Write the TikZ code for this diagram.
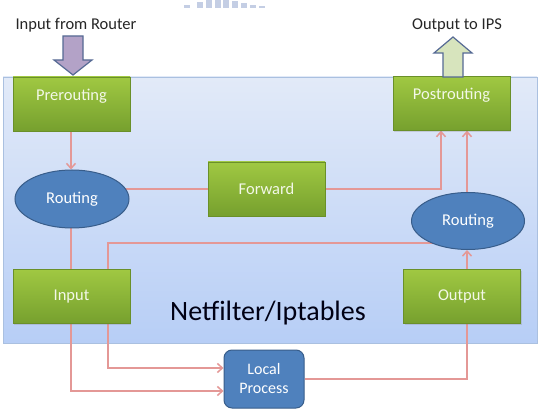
\documentclass[tikz,border=0pt]{standalone}
\usepackage{fontspec}
\setmainfont{Carlito}
\usetikzlibrary{arrows.meta,shadows,calc,shapes.geometric}
\pgfdeclarelayer{panel}\pgfdeclarelayer{edges}
\pgfsetlayers{panel,edges,main}
\definecolor{edgecol}{RGB}{228,152,150}
\definecolor{gtop}{RGB}{160,200,66}
\definecolor{gbot}{RGB}{118,160,46}
\definecolor{gtext}{RGB}{243,248,232}
\definecolor{bfill}{RGB}{79,129,189}
\definecolor{bdraw}{RGB}{56,93,138}
\definecolor{ptop}{RGB}{226,234,248}
\definecolor{pbot}{RGB}{183,206,246}
\definecolor{pdraw}{RGB}{170,192,224}
\definecolor{purfill}{RGB}{179,162,199}
\definecolor{arrdraw}{RGB}{86,106,148}
\definecolor{grnfill}{RGB}{215,228,189}
\definecolor{wmark}{RGB}{196,206,228}
\tikzset{
  greenbox/.style={rectangle, minimum width=117pt, minimum height=54pt, inner sep=0pt,
    top color=gtop, bottom color=gbot, draw=gbot!90!black, line width=0.3pt,
    text=gtext, font=\fontsize{16.5}{18}\selectfont,
    drop shadow={opacity=0.25, shadow xshift=1.2pt, shadow yshift=-1.5pt}},
  raised/.style={text height=12pt, text depth=19pt},
  blueell/.style={ellipse, inner sep=0pt, fill=bfill, draw=bdraw, line width=1pt,
    text=white, font=\fontsize{16.5}{18}\selectfont},
  bluebox/.style={rectangle, rounded corners=8pt, inner sep=0pt, fill=bfill, draw=bdraw,
    line width=1pt, text=white, align=center, font=\fontsize{16}{19}\selectfont},
  edge/.style={draw=edgecol, line width=1.7pt},
  tip/.style={-{Straight Barb[length=5pt,width=9pt,line width=1.5pt]}},
  lbl/.style={font=\fontsize{16.5}{18}\selectfont, text=black!85},
  bigarrow/.style={draw=arrdraw, line width=1.2pt, line join=miter}
}
\begin{document}
\begin{tikzpicture}[x=1pt,y=-1pt]
\useasboundingbox (0,0) rectangle (540,419);
\begin{pgfonlayer}{panel}
\fill[white] (0,0) rectangle (540,419);
\node[rectangle, minimum width=534pt, minimum height=266pt, inner sep=0pt,
  top color=ptop, bottom color=pbot, draw=pdraw, line width=0.8pt] (panel) at (270,210) {};
\end{pgfonlayer}
% watermark
\foreach \xa/\h in {184/3,197/6,206/8,215/8,223/8,232/7,241/5,250/3,259/2}
  \fill[wmark] (\xa,8) rectangle ++(5.5,-\h);
% nodes
\node[greenbox, raised] (pre) at (71.5,104) {Prerouting};
\node[greenbox, raised] (post) at (451.5,103.5) {Postrouting};
\node[greenbox] (fwd) at (266.5,189) {Forward};
\node[greenbox] (inp) at (71.5,296.5) {Input};
\node[greenbox] (out) at (462,296.5) {Output};
\node[blueell, minimum width=114pt, minimum height=58pt] (rl) at (72,199) {Routing};
\node[blueell, minimum width=113pt, minimum height=57pt] (rr) at (468,221) {Routing};
\node[bluebox, minimum width=80pt, minimum height=58pt] (lp) at (264,379) {Local\\Process};
\node[font=\fontsize{28}{30}\selectfont, text=black!92!blue] (nf) at (268,313) {Netfilter/Iptables};
\node[lbl] (tin) at (76,25) {Input from Router};
\node[lbl] (tout) at (457,25) {Output to IPS};
% big arrows
\draw[bigarrow, fill=purfill] (63,36) -- (83,36) -- (83,60) -- (92,60) -- (73,75) -- (54,60) -- (63,60) -- cycle;
\draw[bigarrow, fill=grnfill] (443,77) -- (463,77) -- (463,53) -- (472,53) -- (453,37) -- (434,53) -- (443,53) -- cycle;
% connectors
\begin{pgfonlayer}{edges}
\coordinate (a) at (108,243);
\draw[edge, tip] (pre.south -| 71,0) -- (rl.north -| 71,0);
\draw[edge] (rl.center |- fwd.west) -- (fwd.west);
\draw[edge, tip] (fwd.east) -| ([xshift=-10.5pt]post.south);
\draw[edge, tip] (rr.north -| 467,0) -- (post.south -| 467,0);
\draw[edge, tip] (out.north -| 467,0) -- (rr.south -| 467,0);
\draw[edge, tip] (rr.center |- a) -- (a) |- ([yshift=11pt]lp.west);
\draw[edge, tip] (rl.center -| 71,0) |- ([yshift=-12pt]lp.west);
\draw[edge] (out.center -| 467,0) |- (lp.east);
\end{pgfonlayer}
\end{tikzpicture}
\end{document}
